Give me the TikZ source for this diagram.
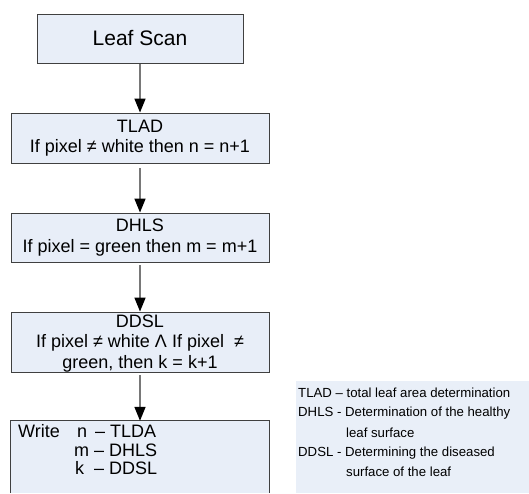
\documentclass[tikz,border=0pt]{standalone}
\usepackage{fontspec}
\setmainfont{Liberation Sans}
\usetikzlibrary{arrows.meta}
\definecolor{boxfill}{RGB}{232,238,248}
\definecolor{legfill}{RGB}{233,239,248}
\definecolor{boxline}{RGB}{64,64,64}
\definecolor{arrline}{RGB}{120,120,120}
\tikzset{
  flowbox/.style={draw=boxline, line width=0.9pt, fill=boxfill, inner sep=0pt,
    minimum width=258pt, align=center, font=\fontsize{18}{20.5}\selectfont},
  flowarrow/.style={draw=arrline, line width=1.6pt,
    -{Triangle[length=14pt,width=11pt,fill=black,color=black]}},
  legtext/.style={anchor=west, inner sep=0pt, font=\fontsize{13.2}{15}\selectfont},
  writetext/.style={anchor=west, inner sep=0pt, font=\fontsize{18}{20}\selectfont}
}
\begin{document}
\begin{tikzpicture}[x=1pt,y=1pt]
\useasboundingbox (0,0) rectangle (529,-493);
% legend background
\fill[legfill] (296,-381) rectangle (529,-493);
\node[legtext] (l1) at (298,-393) {TLAD – total leaf area determination};
\node[legtext] (l2) at (298,-413) {DHLS - Determination of the healthy};
\node[legtext] (l3) at (346,-433) {leaf surface};
\node[legtext] (l4) at (298,-453) {DDSL - Determining the diseased};
\node[legtext] (l5) at (346,-472) {surface of the leaf};
% boxes
\node[flowbox, minimum width=206pt, minimum height=49pt, font=\fontsize{21}{24}\selectfont] (scan) at (140,-38.5) {Leaf Scan};
\node[flowbox, minimum height=50pt] (tlad) at (140,-138) {TLAD\\If pixel ≠ white then n = n+1};
\node[flowbox, minimum height=49pt] (dhls) at (140,-237.5) {DHLS\\If pixel = green then m = m+1};
\node[flowbox, minimum height=60pt] (ddsl) at (140,-342) {};
\node[align=center, inner sep=0pt, font=\fontsize{18}{20.5}\selectfont] (ddslt) at (140,-343.5) {DDSL\\If pixel ≠ white Λ If pixel\ \ ≠\\green, then k = k+1};
\node[fill=boxfill, inner sep=0pt, minimum width=258pt, minimum height=72pt] (write) at (140,-457) {};
\draw[boxline, line width=0.9pt] (write.south west) -- (write.north west) -- (write.north east) -- (write.south east);
\node[writetext] (wt) at (18,-431) {Write};
\node[writetext] (wn) at (77,-431) {n\,\ – TLDA};
\node[writetext] (wm) at (74,-450) {m – DHLS};
\node[writetext] (wk) at (75,-468) {k\ \ – DDSL};
% arrows
\draw[flowarrow] ([yshift=-1pt]scan.south) -- (tlad.north);
\draw[flowarrow] ([yshift=-5pt]tlad.south) -- (dhls.north);
\draw[flowarrow] ([yshift=-3pt]dhls.south) -- (ddsl.north);
\draw[flowarrow] ([yshift=-3pt]ddsl.south) -- (write.north);
\end{tikzpicture}
\end{document}
